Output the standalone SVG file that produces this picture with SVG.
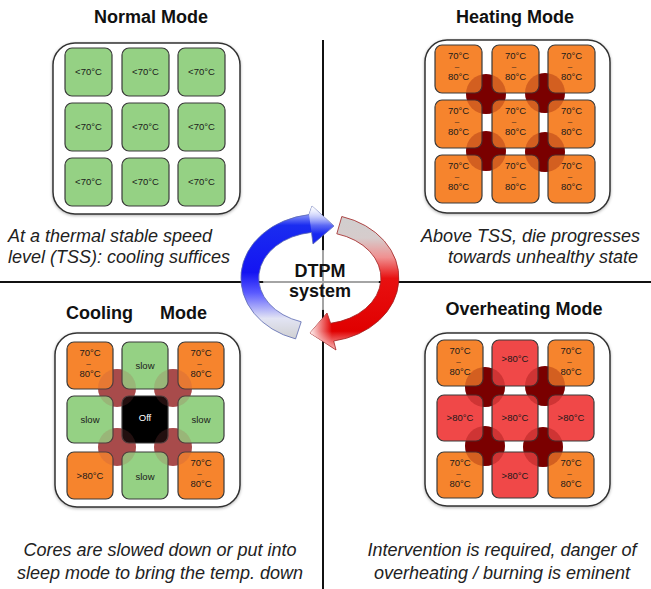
<svg xmlns="http://www.w3.org/2000/svg" width="651" height="589" viewBox="0 0 651 589">
<style>
.title{font-family:"Liberation Sans",Arial,sans-serif;font-weight:bold;font-size:18px;fill:#111}
.cap{font-family:"Liberation Sans",Arial,sans-serif;font-style:italic;font-size:18px;fill:#222}
.box{fill:#fff;stroke:#333;stroke-width:1.5}
.tile{stroke:#3a3a3a;stroke-width:1.2}
.g{fill:#95d184}
.o{fill:#f6842d}
.r{fill:#f04848}
.k{fill:#000}
.t{font-family:"Liberation Sans",Arial,sans-serif;font-size:9.5px;fill:#1a1a1a;text-anchor:middle}
.tw{font-family:"Liberation Sans",Arial,sans-serif;font-size:9.5px;fill:#fff;text-anchor:middle}
.d{font-family:"Liberation Sans",Arial,sans-serif;font-size:8px;fill:#1a1a1a;text-anchor:middle}
.hot{fill:#7a0000}
.hotov{fill:#7a0000;opacity:0.28}
.cool{fill:#a84c4c}
.coolov{fill:#a84c4c;opacity:0.2}
.ln{stroke:#111;stroke-width:2}
</style>
<defs>
<filter id="sh" x="-10%" y="-10%" width="120%" height="120%">
<feDropShadow dx="0" dy="1" stdDeviation="1.5" flood-color="#000" flood-opacity="0.3"/>
</filter>
<linearGradient id="gb" gradientUnits="userSpaceOnUse" x1="300" y1="340" x2="300" y2="205">
<stop offset="0" stop-color="#cfcfcf"/>
<stop offset="0.16" stop-color="#e2e4f4"/>
<stop offset="0.35" stop-color="#5a5aff"/>
<stop offset="0.5" stop-color="#1414f2"/>
<stop offset="0.85" stop-color="#1a2cf0"/>
<stop offset="1" stop-color="#e8f0ff"/>
</linearGradient>
<linearGradient id="gr" gradientUnits="userSpaceOnUse" x1="360" y1="213" x2="360" y2="352">
<stop offset="0" stop-color="#cfcfcf"/>
<stop offset="0.18" stop-color="#d6cccc"/>
<stop offset="0.32" stop-color="#f09090"/>
<stop offset="0.47" stop-color="#e81010"/>
<stop offset="0.85" stop-color="#e00000"/>
<stop offset="1" stop-color="#ffd0d0"/>
</linearGradient>
<linearGradient id="hr" gradientUnits="userSpaceOnUse" x1="310" y1="0" x2="332" y2="0">
<stop offset="0" stop-color="#fff" stop-opacity="0.95"/>
<stop offset="1" stop-color="#fff" stop-opacity="0"/>
</linearGradient>
<linearGradient id="hb" gradientUnits="userSpaceOnUse" x1="0" y1="206" x2="0" y2="234">
<stop offset="0" stop-color="#fff" stop-opacity="0.95"/>
<stop offset="1" stop-color="#fff" stop-opacity="0"/>
</linearGradient>
</defs>

<g id="connectors">
<line class="ln" x1="323" y1="40" x2="323" y2="589"/>
<line class="ln" x1="0" y1="282" x2="651" y2="282"/>
<ellipse cx="321" cy="280" rx="58" ry="30" fill="#fff" opacity="0.62"/>
<path d="M295.6 338.9 A79 64 0 0 1 309 214.6 L312 206 L334 226 L313 244 L311.5 232.4 A61 46 0 0 0 301.2 321.8 Z" fill="url(#gb)" stroke="#5a68b0" stroke-width="0.8"/>
<path d="M312 206 L334 226 L313 244 L311.5 232.4 L309 214.6 Z" fill="url(#hb)"/>
<path d="M341.8 216.5 A79 64 0 0 1 333.7 341 L336 350 L310 333 L327 313 L330.6 323.3 A61 46 0 0 0 336.8 233.8 Z" fill="url(#gr)" stroke="#a02020" stroke-width="0.8"/>
<path d="M336 350 L310 333 L327 313 L330.6 323.3 L333.7 341 Z" fill="url(#hr)"/>
</g>

<g id="dtpm">
<text class="title" x="320" y="277" text-anchor="middle">DTPM</text>
<text class="title" x="320" y="297" text-anchor="middle">system</text>
</g>

<g id="normal">
<text class="title" x="151" y="23" text-anchor="middle">Normal Mode</text>
<rect class="box" x="53" y="43" width="187" height="171" rx="22" filter="url(#sh)"/>
<rect class="tile g" x="65" y="48" width="47" height="48" rx="7"/>
<rect class="tile g" x="122" y="48" width="47" height="48" rx="7"/>
<rect class="tile g" x="178" y="48" width="47" height="48" rx="7"/>
<rect class="tile g" x="65" y="103" width="47" height="48" rx="7"/>
<rect class="tile g" x="122" y="103" width="47" height="48" rx="7"/>
<rect class="tile g" x="178" y="103" width="47" height="48" rx="7"/>
<rect class="tile g" x="65" y="158" width="47" height="48" rx="7"/>
<rect class="tile g" x="122" y="158" width="47" height="48" rx="7"/>
<rect class="tile g" x="178" y="158" width="47" height="48" rx="7"/>
<text class="t" x="88.5" y="75">&lt;70°C</text>
<text class="t" x="145.5" y="75">&lt;70°C</text>
<text class="t" x="201.5" y="75">&lt;70°C</text>
<text class="t" x="88.5" y="130">&lt;70°C</text>
<text class="t" x="145.5" y="130">&lt;70°C</text>
<text class="t" x="201.5" y="130">&lt;70°C</text>
<text class="t" x="88.5" y="185">&lt;70°C</text>
<text class="t" x="145.5" y="185">&lt;70°C</text>
<text class="t" x="201.5" y="185">&lt;70°C</text>
<text class="cap" x="8" y="242">At a thermal stable speed</text>
<text class="cap" x="8" y="263">level (TSS): cooling suffices</text>
</g>

<g id="heating">
<text class="title" x="515" y="23" text-anchor="middle">Heating Mode</text>
<rect class="box" x="425" y="40" width="185" height="173" rx="22" filter="url(#sh)"/>
<circle class="hot" cx="486" cy="94" r="20"/>
<circle class="hot" cx="545" cy="93" r="20"/>
<circle class="hot" cx="486" cy="151" r="20"/>
<circle class="hot" cx="545" cy="152" r="20"/>
<rect class="tile o" x="435" y="45" width="47" height="48" rx="7"/>
<rect class="tile o" x="492" y="45" width="47" height="48" rx="7"/>
<rect class="tile o" x="548" y="45" width="47" height="48" rx="7"/>
<rect class="tile o" x="435" y="100" width="47" height="48" rx="7"/>
<rect class="tile o" x="492" y="100" width="47" height="48" rx="7"/>
<rect class="tile o" x="548" y="100" width="47" height="48" rx="7"/>
<rect class="tile o" x="435" y="155" width="47" height="48" rx="7"/>
<rect class="tile o" x="492" y="155" width="47" height="48" rx="7"/>
<rect class="tile o" x="548" y="155" width="47" height="48" rx="7"/>
<circle class="hotov" cx="486" cy="94" r="20"/>
<circle class="hotov" cx="545" cy="93" r="20"/>
<circle class="hotov" cx="486" cy="151" r="20"/>
<circle class="hotov" cx="545" cy="152" r="20"/>
<text class="t" x="458.5" y="58.8">70°C</text><text class="d" x="457" y="68.5">–</text><text class="t" x="458.5" y="79.5">80°C</text>
<text class="t" x="515.5" y="58.8">70°C</text><text class="d" x="514" y="68.5">–</text><text class="t" x="515.5" y="79.5">80°C</text>
<text class="t" x="571.5" y="58.8">70°C</text><text class="d" x="570" y="68.5">–</text><text class="t" x="571.5" y="79.5">80°C</text>
<text class="t" x="458.5" y="113.8">70°C</text><text class="d" x="457" y="123.5">–</text><text class="t" x="458.5" y="134.5">80°C</text>
<text class="t" x="515.5" y="113.8">70°C</text><text class="d" x="514" y="123.5">–</text><text class="t" x="515.5" y="134.5">80°C</text>
<text class="t" x="571.5" y="113.8">70°C</text><text class="d" x="570" y="123.5">–</text><text class="t" x="571.5" y="134.5">80°C</text>
<text class="t" x="458.5" y="168.8">70°C</text><text class="d" x="457" y="178.5">–</text><text class="t" x="458.5" y="189.5">80°C</text>
<text class="t" x="515.5" y="168.8">70°C</text><text class="d" x="514" y="178.5">–</text><text class="t" x="515.5" y="189.5">80°C</text>
<text class="t" x="571.5" y="168.8">70°C</text><text class="d" x="570" y="178.5">–</text><text class="t" x="571.5" y="189.5">80°C</text>
<text class="cap" x="640" y="242" text-anchor="end">Above TSS, die progresses</text>
<text class="cap" x="638" y="263" text-anchor="end">towards unhealthy state</text>
</g>

<g id="cooling">
<text class="title" x="66" y="319">Cooling</text>
<text class="title" x="160" y="319">Mode</text>
<rect class="box" x="55" y="333" width="185" height="174" rx="22" filter="url(#sh)"/>
<circle class="cool" cx="117" cy="388" r="19"/>
<circle class="cool" cx="173" cy="388" r="19"/>
<circle class="cool" cx="117" cy="447" r="19"/>
<circle class="cool" cx="173" cy="447" r="19"/>
<rect class="tile o" x="67" y="342" width="46" height="47" rx="7"/>
<rect class="tile g" x="122" y="342" width="46" height="47" rx="7"/>
<rect class="tile o" x="178" y="342" width="46" height="47" rx="7"/>
<rect class="tile g" x="67" y="396" width="46" height="47" rx="7"/>
<rect class="tile k" x="122" y="396" width="46" height="47" rx="7"/>
<rect class="tile g" x="178" y="396" width="46" height="47" rx="7"/>
<rect class="tile o" x="67" y="452" width="46" height="47" rx="7"/>
<rect class="tile g" x="122" y="452" width="46" height="47" rx="7"/>
<rect class="tile o" x="178" y="452" width="46" height="47" rx="7"/>
<circle class="coolov" cx="117" cy="388" r="19"/>
<circle class="coolov" cx="173" cy="388" r="19"/>
<circle class="coolov" cx="117" cy="447" r="19"/>
<circle class="coolov" cx="173" cy="447" r="19"/>
<text class="t" x="90" y="355.8">70°C</text><text class="d" x="88.5" y="365.5">–</text><text class="t" x="90" y="376.5">80°C</text>
<text class="t" x="145" y="369">slow</text>
<text class="t" x="201" y="355.8">70°C</text><text class="d" x="199.5" y="365.5">–</text><text class="t" x="201" y="376.5">80°C</text>
<text class="t" x="90" y="423">slow</text>
<text class="tw" x="145" y="421">Off</text>
<text class="t" x="201" y="423">slow</text>
<text class="t" x="90" y="479">&gt;80°C</text>
<text class="t" x="145" y="480">slow</text>
<text class="t" x="201" y="465.8">70°C</text><text class="d" x="199.5" y="475.5">–</text><text class="t" x="201" y="486.5">80°C</text>
<text class="cap" x="160" y="556" text-anchor="middle">Cores are slowed down or put into</text>
<text class="cap" x="160" y="579" text-anchor="middle">sleep mode to bring the temp. down</text>
</g>

<g id="overheating">
<text class="title" x="524" y="315" text-anchor="middle">Overheating Mode</text>
<rect class="box" x="425" y="333" width="185" height="173" rx="22" filter="url(#sh)"/>
<circle class="hot" cx="485" cy="387" r="20"/>
<circle class="hot" cx="545" cy="386" r="20"/>
<circle class="hot" cx="485" cy="446" r="20"/>
<circle class="hot" cx="543" cy="447" r="20"/>
<rect class="tile o" x="437" y="340" width="46" height="46" rx="7"/>
<rect class="tile r" x="492" y="340" width="46" height="46" rx="7"/>
<rect class="tile o" x="548" y="340" width="46" height="46" rx="7"/>
<rect class="tile r" x="437" y="395" width="46" height="46" rx="7"/>
<rect class="tile r" x="492" y="395" width="46" height="46" rx="7"/>
<rect class="tile r" x="548" y="395" width="46" height="46" rx="7"/>
<rect class="tile o" x="437" y="452" width="46" height="46" rx="7"/>
<rect class="tile r" x="492" y="452" width="46" height="46" rx="7"/>
<rect class="tile o" x="548" y="452" width="46" height="46" rx="7"/>
<circle class="hotov" cx="485" cy="387" r="20"/>
<circle class="hotov" cx="545" cy="386" r="20"/>
<circle class="hotov" cx="485" cy="446" r="20"/>
<circle class="hotov" cx="543" cy="447" r="20"/>
<text class="t" x="460" y="353.8">70°C</text><text class="d" x="458.5" y="363.5">–</text><text class="t" x="460" y="374.5">80°C</text>
<text class="t" x="515" y="362">&gt;80°C</text>
<text class="t" x="571" y="353.8">70°C</text><text class="d" x="569.5" y="363.5">–</text><text class="t" x="571" y="374.5">80°C</text>
<text class="t" x="460" y="421">&gt;80°C</text>
<text class="t" x="515" y="421">&gt;80°C</text>
<text class="t" x="571" y="421">&gt;80°C</text>
<text class="t" x="460" y="465.8">70°C</text><text class="d" x="458.5" y="475.5">–</text><text class="t" x="460" y="486.5">80°C</text>
<text class="t" x="515" y="479">&gt;80°C</text>
<text class="t" x="571" y="465.8">70°C</text><text class="d" x="569.5" y="475.5">–</text><text class="t" x="571" y="486.5">80°C</text>
<text class="cap" x="502" y="556" text-anchor="middle">Intervention is required, danger of</text>
<text class="cap" x="502" y="579" text-anchor="middle">overheating / burning is eminent</text>
</g>
</svg>
